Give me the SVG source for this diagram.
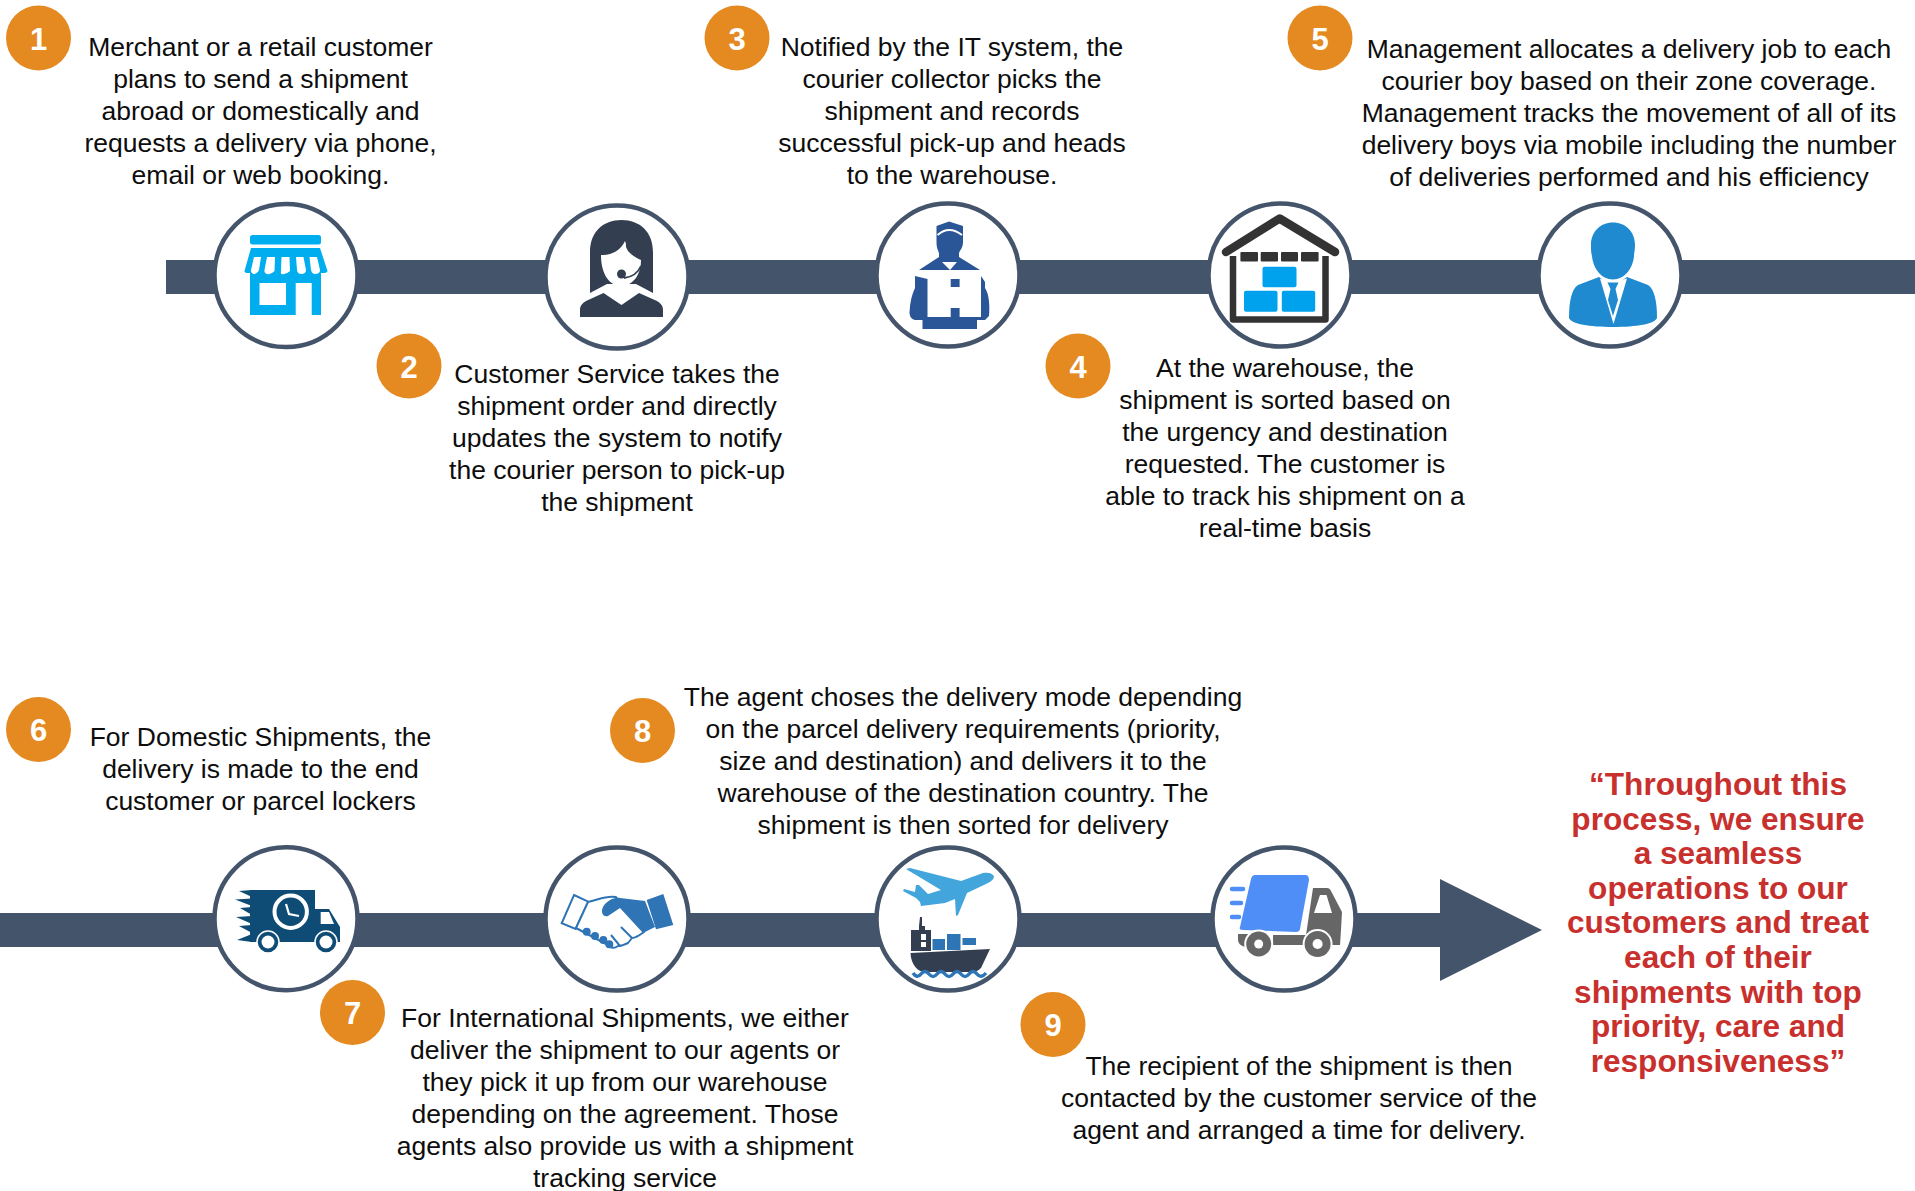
<svg xmlns="http://www.w3.org/2000/svg" width="1915" height="1191" viewBox="0 0 1915 1191">
<style>
.t{font-family:"Liberation Sans",Arial,sans-serif;font-size:26.5px;fill:#0d0d0d;text-anchor:middle}
.q{font-family:"Liberation Sans",Arial,sans-serif;font-size:31.6px;font-weight:700;fill:#c8302e;text-anchor:middle}
.n{font-family:"Liberation Sans",Arial,sans-serif;font-size:31px;font-weight:700;fill:#fff;text-anchor:middle}
.b{fill:#e48a20}
.c{fill:#fff;stroke:#44546a;stroke-width:4.5}
.bar{fill:#44546a}
</style>
<rect width="1915" height="1191" fill="#fff"/>
<g id="connectors">
<rect class="bar" x="166" y="260" width="1749" height="34"/>
<rect class="bar" x="0" y="913" width="1445" height="34"/>
<polygon class="bar" points="1440,879 1542,930 1440,981"/>
</g>
<g id="node1">
<circle class="c" cx="286" cy="275.500" r="71.500"/>
<g fill="#00aeef">
<rect x="250" y="235" width="71" height="9.500" rx="2.500"/>
<path d="M251 248H320L327.500 271Q327 273 323 273H248Q244.500 273 244.500 271Z"/>
<path d="M250 270H321V315H250Z"/>
</g>
<g fill="#fff">
<path d="M254 257H261L259 270Q257 274 253.500 274Q250.500 273 251 270Z"/>
<path d="M267 257H275L274.500 271Q271 275 267 274Q264 273 264.500 270Z"/>
<path d="M281.500 257H289.500L290 271Q286 275 281.500 274Q280.500 273 281 270Z"/>
<path d="M296 257H303.500L306 270Q306 274 301 274Q297.500 274 297 270Z"/>
<path d="M309.500 257H317L320 270Q320 274 315 274Q312 274 311 270Z"/>
<rect x="259.500" y="283" width="26.500" height="22"/>
<rect x="295.700" y="283" width="16" height="32"/>
</g>
</g>
<g id="node2">
<circle class="c" cx="617" cy="277" r="71.500"/>
<path fill="#333f50" d="M590 293V252C590 232 603 220 621.500 220C640 220 653 232 653 252V293L636 284H607Z"/>
<path fill="#333f50" d="M580 317V310C580 305 583 303 586 301L603.500 293L621.500 305L639 293L657 301C660 303 663 305 663 310V317Z"/>
<path fill="#fff" d="M601 255C611 256 621 250 625 241L626 244C625 250 632 256 641 260C641 276 632 286 621 286C610 286 601 275 601 255Z"/>
<circle cx="621.500" cy="274" r="4.500" fill="#333f50"/>
<path d="M641 266C638 273 632 277 624 278" fill="none" stroke="#333f50" stroke-width="1.800"/>
</g>
<g id="node3">
<circle class="c" cx="948" cy="275" r="71.500"/>
<g fill="#2a5596">
<path d="M936.500 226L949 221.500L963 226V242C963 248 960 250 959 253V257L980 270H919L939 257V253C938 250 936.500 248 936.500 242Z"/>
<path d="M915 276L927.500 279H981V276L985 282V288C989 294 990 305 989 316L985 320H977V329H922.500V320H915C911 319 909.500 316 909.500 312C910 302 912 294 915 288Z"/>
</g>
<path fill="none" stroke="#fff" stroke-width="1.800" d="M937.500 235Q949 225 962 235"/>
<polygon fill="#fff" points="942,262 957,262 950,270"/>
<path fill="#fff" d="M927.500 279H950.700V287H959.600V279H981V317H959.600V308H950.700V317H927.500Z"/>
</g>
<g id="node4">
<circle class="c" cx="1280" cy="275" r="71.500"/>
<path d="M1226 252L1279.600 218.500L1335 252" fill="none" stroke="#333" stroke-width="8.500" stroke-linecap="round" stroke-linejoin="round"/>
<path d="M1233 256V319.500H1325.500V256" fill="none" stroke="#333" stroke-width="6.500" stroke-linejoin="round"/>
<g fill="#333"><rect x="1240.400" y="252" width="17.600" height="9.500" rx="1"/><rect x="1260.700" y="252" width="17.300" height="9.500" rx="1"/><rect x="1281" y="252" width="17" height="9.500" rx="1"/><rect x="1301" y="252" width="17.600" height="9.500" rx="1"/></g>
<g fill="#00a2ee"><rect x="1262.500" y="266.700" width="34" height="20.600" rx="2"/><rect x="1244" y="290.700" width="33.500" height="21" rx="2"/><rect x="1281.800" y="290.700" width="33.400" height="21" rx="2"/></g>
</g>
<g id="node5">
<circle class="c" cx="1610" cy="275" r="71.500"/>
<path fill="#1f8ad0" d="M1613 222.500C1626 222.500 1635 232 1635 245C1635 250 1634 253 1634 256C1633 268 1625 279.500 1613 279.500C1601 279.500 1593 268 1592 256C1591 252 1591 250 1591 245C1591 232 1600 222.500 1613 222.500Z"/>
<path fill="#1f8ad0" d="M1599 277L1609 284H1617L1627 277L1648 285C1654 289 1657 300 1657 318C1655 324 1636 327 1613 327C1590 327 1571 324 1569 318C1569 300 1572 289 1578 285Z"/>
<polygon fill="#fff" points="1600,278.500 1612,282 1614,282 1627,278.500 1613.500,324"/>
<path fill="#1f8ad0" d="M1607.500 282.500H1618.500L1615.500 289L1618 300L1613 316L1608 300L1610.500 289Z"/>
</g>
<g id="node6">
<circle class="c" cx="286" cy="918.700" r="71.500"/>
<path fill="#0f4c75" d="M250 890H315V909H329L340 927V942H250Z"/>
<g fill="#0f4c75">
<polygon points="239,891 252,890 252,897"/>
<polygon points="235,899.500 252,898.500 252,906"/>
<polygon points="240,908 252,907 252,915"/>
<polygon points="236,917 252,916 252,924"/>
<polygon points="239,926 252,925 252,933"/>
<polygon points="237,940 252,934 252,942"/>
</g>
<polygon fill="#fff" points="320.700,912 329,912 334,924 320.700,924"/>
<circle cx="290.700" cy="911.700" r="16.200" fill="none" stroke="#fff" stroke-width="4"/>
<path d="M286 904L289 914L299 916" fill="none" stroke="#fff" stroke-width="2.200"/>
<circle cx="268" cy="942" r="11" fill="#0f4c75" stroke="#fff" stroke-width="1.500"/><circle cx="268" cy="942" r="6.500" fill="#fff"/>
<circle cx="326" cy="942" r="11" fill="#0f4c75" stroke="#fff" stroke-width="1.500"/><circle cx="326" cy="942" r="6.500" fill="#fff"/>
</g>
<g id="node7">
<circle class="c" cx="617" cy="919" r="71.500"/>
<polygon fill="#fff" stroke="#2f75b5" stroke-width="2" points="574,895 588.300,901.700 575.700,929 561.700,923.300"/>
<polygon fill="#2f75b5" points="646.700,900 663.300,894 673.300,925 656,929.300"/>
<path fill="#fff" stroke="#2f75b5" stroke-width="2" stroke-linejoin="round" d="M588 902C598 900 606 895 616 897L644 932C640 935 636 938 632 938L628 943C624 945 621 946 618 946C614 949 610 948 606 944L576 928Z"/>
<path fill="#2f75b5" d="M605 904C610 899 615 897 620 898L645 901L655 927L643 933L620 908L608 916C603 918 599 911 605 904Z"/>
<path d="M632 938L621 927M620 946L611 935" fill="none" stroke="#2f75b5" stroke-width="2"/>
<g fill="#2f75b5"><circle cx="586.700" cy="931.700" r="4"/><circle cx="595" cy="936" r="4"/><circle cx="603.300" cy="940" r="4"/><circle cx="609.300" cy="944.300" r="4"/></g>
</g>
<g id="node8">
<circle class="c" cx="948" cy="919" r="71.500"/>
<path fill="#42a5dc" d="M906 869L910 868L961 881L983 873C988 872 992 873 994 876C994 880 990 882 986 884L967 893L958 915L956 916L955 899L945 903L921 906L920 902L916 898L903 891L904 889L915 892L916 885L919 885L928 894L941 890Z"/>
<path fill="#333f50" d="M910.500 953L990 949L981 968C978 971 975 972 970 972H925C918 972 911 965 910.500 953Z"/>
<path fill="#333f50" d="M920 917H922V926H925V930H931V951H911V930H919V926H919Z"/>
<g fill="#fff"><rect x="921" y="934" width="5" height="6"/><rect x="921" y="942" width="5" height="5"/></g>
<g fill="#2e75b6"><rect x="932.500" y="939" width="12.500" height="11"/><rect x="947" y="934" width="13.500" height="16"/><rect x="962.500" y="938" width="13.500" height="7"/></g>
<path d="M913 973Q917 979 921 974Q925 969 929 974Q933 979 937 974Q941 969 945 974Q949 979 953 974Q957 969 961 974Q965 979 969 974Q973 969 977 974Q981 979 986 973" fill="none" stroke="#2e75b6" stroke-width="3.500"/>
</g>
<g id="node9">
<circle class="c" cx="1284" cy="919" r="71.500"/>
<path fill="#4f8ef7" d="M1255 875H1305C1308 875 1309 877 1309 880L1300 929C1300 931 1298 932 1296 932L1243 930C1240 930 1239 929 1240 927L1251 879C1252 876 1253 875 1255 875Z"/>
<path d="M1232 889H1243M1232 903H1241M1232 917H1239" stroke="#4f8ef7" stroke-width="4.500" stroke-linecap="round"/>
<path fill="#666" d="M1313 888H1327C1329 888 1330 889 1331 891L1342 912L1341 930L1340 945H1273V935H1306Z"/>
<path fill="#666" d="M1238 934H1250L1245 940V947Q1238 945 1238 940Z"/>
<polygon fill="#fff" points="1320,895 1326.500,895 1332,913 1314,913"/>
<circle cx="1258.700" cy="944" r="14.500" fill="#fff"/><circle cx="1258.700" cy="944" r="12.500" fill="#666"/><circle cx="1258.700" cy="944" r="4.500" fill="#fff"/>
<circle cx="1317.600" cy="944" r="15" fill="#fff"/><circle cx="1317.600" cy="944" r="13" fill="#666"/><circle cx="1317.600" cy="944" r="5" fill="#fff"/>
</g>
<g id="badge1"><circle class="b" cx="38.500" cy="38" r="32.500"/><text class="n" x="38.500" y="50">1</text></g>
<g id="badge2"><circle class="b" cx="409" cy="366" r="32.500"/><text class="n" x="409" y="378">2</text></g>
<g id="badge3"><circle class="b" cx="737" cy="38" r="32.500"/><text class="n" x="737" y="50">3</text></g>
<g id="badge4"><circle class="b" cx="1078" cy="366" r="32.500"/><text class="n" x="1078" y="378">4</text></g>
<g id="badge5"><circle class="b" cx="1320" cy="38" r="32.500"/><text class="n" x="1320" y="50">5</text></g>
<g id="badge6"><circle class="b" cx="38.500" cy="729.500" r="32.500"/><text class="n" x="38.500" y="741">6</text></g>
<g id="badge7"><circle class="b" cx="352.500" cy="1012.500" r="32.500"/><text class="n" x="352.500" y="1024">7</text></g>
<g id="badge8"><circle class="b" cx="642.500" cy="730.500" r="32.500"/><text class="n" x="642.500" y="742">8</text></g>
<g id="badge9"><circle class="b" cx="1053" cy="1024.500" r="32.500"/><text class="n" x="1053" y="1036">9</text></g>
<g id="text1"><text class="t" y="56"><tspan x="260.500">Merchant or a retail customer</tspan><tspan x="260.500" dy="32">plans to send a shipment</tspan><tspan x="260.500" dy="32">abroad or domestically and</tspan><tspan x="260.500" dy="32">requests a delivery via phone,</tspan><tspan x="260.500" dy="32">email or web booking.</tspan></text></g>
<g id="text2"><text class="t" y="383"><tspan x="617">Customer Service takes the</tspan><tspan x="617" dy="32">shipment order and directly</tspan><tspan x="617" dy="32">updates the system to notify</tspan><tspan x="617" dy="32">the courier person to pick-up</tspan><tspan x="617" dy="32">the shipment</tspan></text></g>
<g id="text3"><text class="t" y="56"><tspan x="952">Notified by the IT system, the</tspan><tspan x="952" dy="32">courier collector picks the</tspan><tspan x="952" dy="32">shipment and records</tspan><tspan x="952" dy="32">successful pick-up and heads</tspan><tspan x="952" dy="32">to the warehouse.</tspan></text></g>
<g id="text4"><text class="t" y="377"><tspan x="1285">At the warehouse, the</tspan><tspan x="1285" dy="32">shipment is sorted based on</tspan><tspan x="1285" dy="32">the urgency and destination</tspan><tspan x="1285" dy="32">requested. The customer is</tspan><tspan x="1285" dy="32">able to track his shipment on a</tspan><tspan x="1285" dy="32">real-time basis</tspan></text></g>
<g id="text5"><text class="t" y="58"><tspan x="1629">Management allocates a delivery job to each</tspan><tspan x="1629" dy="32">courier boy based on their zone coverage.</tspan><tspan x="1629" dy="32">Management tracks the movement of all of its</tspan><tspan x="1629" dy="32">delivery boys via mobile including the number</tspan><tspan x="1629" dy="32">of deliveries performed and his efficiency</tspan></text></g>
<g id="text6"><text class="t" y="746"><tspan x="260.500">For Domestic Shipments, the</tspan><tspan x="260.500" dy="32">delivery is made to the end</tspan><tspan x="260.500" dy="32">customer or parcel lockers</tspan></text></g>
<g id="text7"><text class="t" y="1027"><tspan x="625">For International Shipments, we either</tspan><tspan x="625" dy="32">deliver the shipment to our agents or</tspan><tspan x="625" dy="32">they pick it up from our warehouse</tspan><tspan x="625" dy="32">depending on the agreement. Those</tspan><tspan x="625" dy="32">agents also provide us with a shipment</tspan><tspan x="625" dy="32">tracking service</tspan></text></g>
<g id="text8"><text class="t" y="706"><tspan x="963">The agent choses the delivery mode depending</tspan><tspan x="963" dy="32">on the parcel delivery requirements (priority,</tspan><tspan x="963" dy="32">size and destination) and delivers it to the</tspan><tspan x="963" dy="32">warehouse of the destination country. The</tspan><tspan x="963" dy="32">shipment is then sorted for delivery</tspan></text></g>
<g id="text9"><text class="t" y="1075"><tspan x="1299">The recipient of the shipment is then</tspan><tspan x="1299" dy="32">contacted by the customer service of the</tspan><tspan x="1299" dy="32">agent and arranged a time for delivery.</tspan></text></g>
<g id="quote"><text class="q" y="795"><tspan x="1718">“Throughout this</tspan><tspan x="1718" dy="34.600">process, we ensure</tspan><tspan x="1718" dy="34.600">a seamless</tspan><tspan x="1718" dy="34.600">operations to our</tspan><tspan x="1718" dy="34.600">customers and treat</tspan><tspan x="1718" dy="34.600">each of their</tspan><tspan x="1718" dy="34.600">shipments with top</tspan><tspan x="1718" dy="34.600">priority, care and</tspan><tspan x="1718" dy="34.600">responsiveness”</tspan></text></g>
</svg>
